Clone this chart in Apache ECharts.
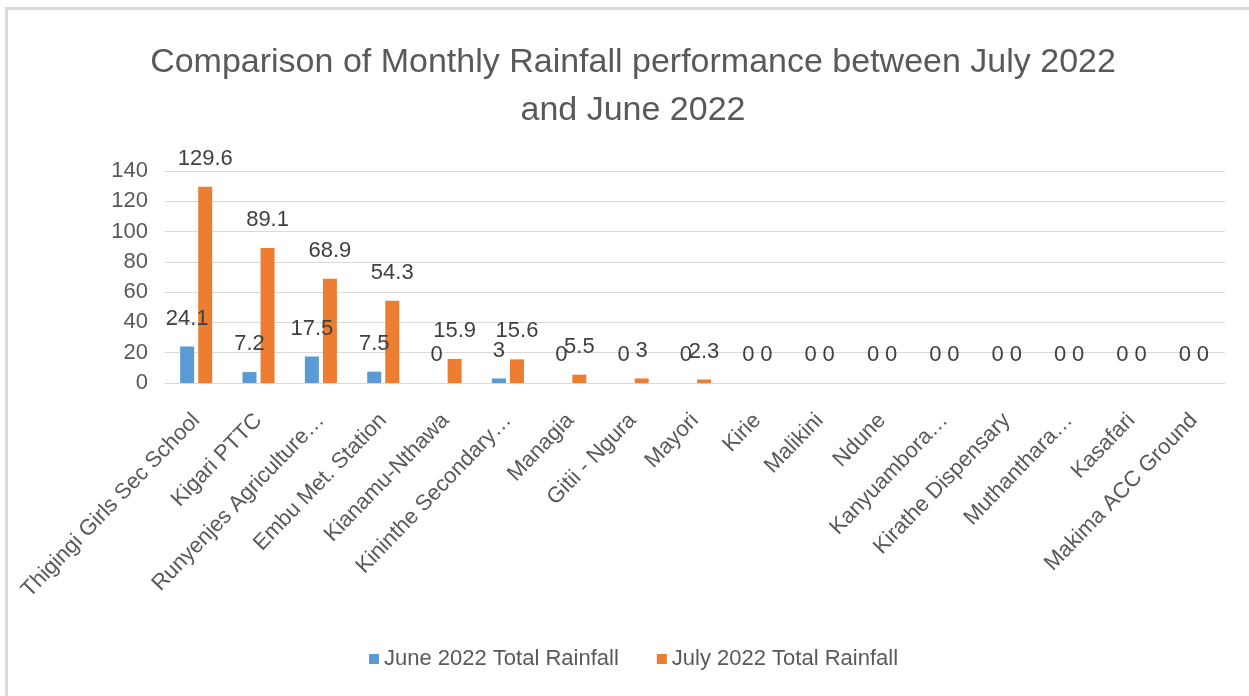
<!doctype html>
<html>
<head>
    <meta charset="UTF-8">
    <title>Monthly Rainfall July vs June 2022</title>
    <script src="https://cdn.jsdelivr.net/npm/echarts@6/dist/echarts.min.js"></script>
    <style>
        html, body { margin: 0; padding: 0; background: #fff; }
        #frame {
            position: absolute; left: 5px; top: 7px; right: 0; bottom: 0;
            border-left: 3px solid #dadada; border-top: 3px solid #dadada;
        }
        #main { position: absolute; left: 0; top: 0; width: 1249px; height: 696px; }
    </style>
</head>
<body>
<div id="frame"></div>
<div id="main"></div>
<script type="text/javascript">
    // stations (as shown, long names cut like in the original)
    var stations = ['Thigingi Girls Sec School', 'Kigari PTTC', 'Runyenjes Agriculture…', 'Embu Met. Station',
        'Kianamu-Nthawa', 'Kininthe Secondary…', 'Managia', 'Gitii - Ngura', 'Mayori', 'Kirie', 'Malikini',
        'Ndune', 'Kanyuambora…', 'Kirathe Dispensary', 'Muthanthara…', 'Kasafari', 'Makima ACC Ground'];
    var june2022 = [24.1, 7.2, 17.5, 7.5, 0, 3, 0, 0, 0, 0, 0, 0, 0, 0, 0, 0, 0];
    var july2022 = [129.6, 89.1, 68.9, 54.3, 15.9, 15.6, 5.5, 3, 2.3, 0, 0, 0, 0, 0, 0, 0, 0];
    var yTicks = { min: 0, max: 140, interval: 20 };

    var myChart = echarts.init(document.getElementById('main'));
    var font = 'Liberation Sans';
    var labelStyle = {
        show: true,
        position: 'top',
        distance: 17,
        fontFamily: font,
        fontSize: 22,
        color: '#404040'
    };

    var option = {
        backgroundColor: 'transparent',
        title: {
            text: 'Comparison of Monthly Rainfall performance between July 2022\nand June 2022',
            left: 628,
            top: 34,
            textAlign: 'center',
            textStyle: {
                fontFamily: font,
                fontSize: 34,
                fontWeight: 'normal',
                lineHeight: 48,
                color: '#595959'
            }
        },
        legend: {
            left: 364,
            top: 643,
            itemWidth: 10,
            itemHeight: 10,
            itemGap: 38,
            icon: 'rect',
            textStyle: { fontFamily: font, fontSize: 22, color: '#595959' },
            data: ['June 2022 Total Rainfall', 'July 2022 Total Rainfall']
        },
        grid: {
            left: 165,
            right: 24,
            top: 171,
            bottom: 313,
            outerBoundsMode: 'none'
        },
        xAxis: {
            type: 'category',
            data: stations,
            axisLine: { lineStyle: { color: '#d9d9d9', width: 1 } },
            axisTick: { show: false },
            axisLabel: {
                interval: 0,
                rotate: 46,
                margin: 34,
                fontFamily: font,
                fontSize: 22,
                color: '#595959'
            }
        },
        yAxis: {
            type: 'value',
            min: yTicks.min,
            max: yTicks.max,
            interval: yTicks.interval,
            axisLine: { show: false },
            axisTick: { show: false },
            axisLabel: { margin: 17, fontFamily: font, fontSize: 22, color: '#595959' },
            splitLine: { lineStyle: { color: '#d9d9d9', width: 1 } }
        },
        series: [{
            name: 'June 2022 Total Rainfall',
            type: 'bar',
            data: june2022,
            barWidth: 14,
            barGap: '29%',
            itemStyle: { color: '#5B9BD5' },
            label: labelStyle
        }, {
            name: 'July 2022 Total Rainfall',
            type: 'bar',
            data: july2022,
            barWidth: 14,
            barGap: '29%',
            itemStyle: { color: '#ED7D31' },
            label: labelStyle
        }]
    };
    myChart.setOption(option);
</script>
</body>
</html>
